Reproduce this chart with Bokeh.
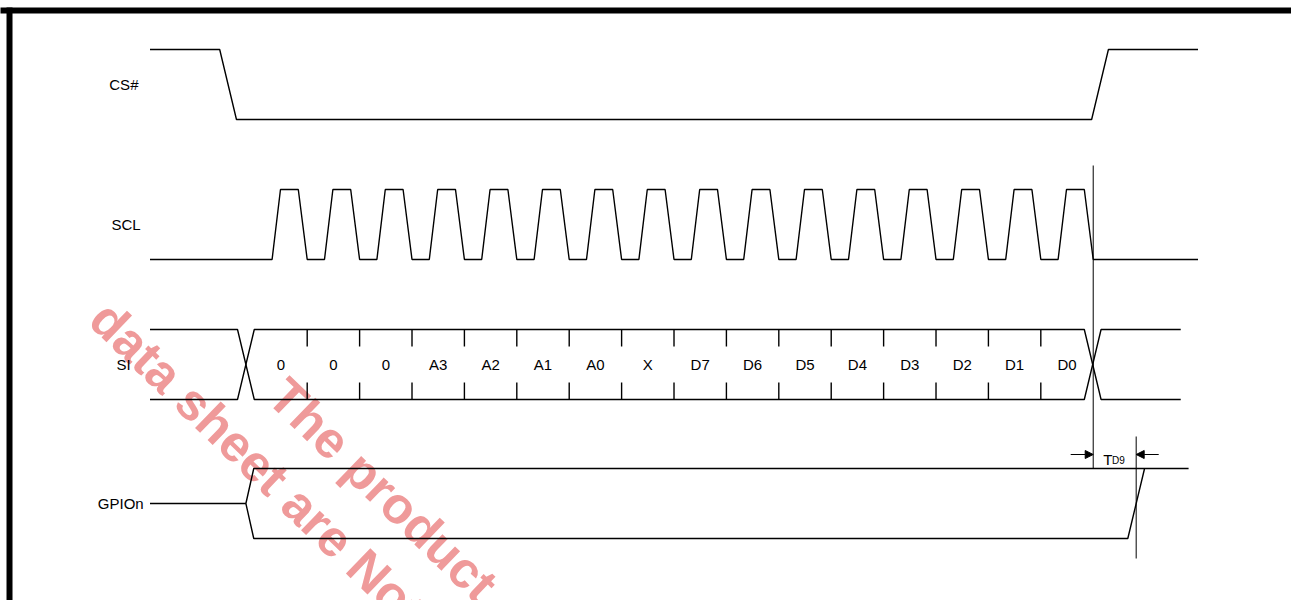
from bokeh.plotting import figure
from bokeh.models import Range1d, Arrow, NormalHead
from bokeh.core.properties import value
from bokeh.embed import file_html
from bokeh.resources import INLINE

# ---------------- data (time in SCL periods) ----------------
signal_names = ["CS#", "SCL", "SI", "GPIOn"]
si_bits = ["0", "0", "0", "A3", "A2", "A1", "A0", "X",
           "D7", "D6", "D5", "D4", "D3", "D2", "D1", "D0"]
# CS# waveform: time / logic level
cs_t = [-2.0, -0.67, -0.35, 15.97, 16.29, 18.0]
cs_level = [1, 1, 0, 0, 1, 1]
# SCL pulses: start of rising edge, start of falling edge
scl_rise = [0.33, 1.33, 2.33, 3.33, 4.33, 5.33, 6.33, 7.33,
            8.33, 9.33, 10.33, 11.33, 12.33, 13.33, 14.33, 15.33]
scl_fall = [0.83, 1.83, 2.83, 3.83, 4.83, 5.83, 6.83, 7.83,
            8.83, 9.83, 10.83, 11.83, 12.83, 13.83, 14.83, 15.83]
scl_span = [-2.0, 18.0]
# SI bus: crossing times of the transitions, and span
si_cross = [-0.17, 15.99]
si_span = [-2.0, 17.67]
# GPIOn: start, bus opening, end of low level, end of rise, end
gpio_t = [-2.0, -0.17, 16.66, 16.98, 17.82]
# T_D9 interval (from last SCL falling edge to GPIOn valid)
td9 = [16.0, 16.82]
watermark = ["data sheet are Not", "The product"]

# ---------------- layout / style ----------------
FONT = value("Liberation Sans")
H = 70.0
lane = {"CS#": 473.0, "SCL": 333.0, "SI": 193.0, "GPIOn": 54.0}
label_x = {"CS#": -2.22, "SCL": -2.18, "SI": -2.37, "GPIOn": -2.12}
LW = 1.4
RISE = 0.16
FALL = 0.17
HALF = 0.16

p = figure(width=1291, height=600, x_range=Range1d(-4.853, 19.784),
           y_range=Range1d(-8, 592), output_backend="svg",
           toolbar_location=None, min_border=0,
           x_axis_type=None, y_axis_type=None)
p.grid.visible = False
p.outline_line_color = None
p.background_fill_color = "white"
p.border_fill_color = "white"

# watermark (behind everything)
p.text(x=[-2.98, 0.42], y=[282, 205], text=watermark,
       angle=[-44, -44], angle_units="deg",
       text_font=FONT, text_font_style="bold", text_font_size="51px",
       text_color="#ef9a9a", text_align="left", text_baseline="middle")

# frame
p.line([-4.9, 19.9], [582, 582], line_color="black", line_width=6)
p.line([-4.681, -4.681], [585, -10], line_color="black", line_width=6)

# CS#
b = lane["CS#"]
p.line(cs_t, [b + H * v for v in cs_level], line_color="black", line_width=LW)

# SCL
b = lane["SCL"]
xs, ys = [scl_span[0]], [b]
for r, f in zip(scl_rise, scl_fall):
    xs += [r, r + RISE, f, f + FALL]
    ys += [b, b + H, b + H, b]
xs.append(scl_span[1]); ys.append(b)
p.line(xs, ys, line_color="black", line_width=LW)

# SI bus
b = lane["SI"]; top = b + H; c0, c1 = si_cross
p.line([si_span[0], c0 - HALF, c0 + HALF, c1 - HALF, c1 + HALF, si_span[1]],
       [top, top, b, b, top, top], line_color="black", line_width=LW)
p.line([si_span[0], c0 - HALF, c0 + HALF, c1 - HALF, c1 + HALF, si_span[1]],
       [b, b, top, top, b, b], line_color="black", line_width=LW)
ticks = list(range(1, len(si_bits)))
p.segment(x0=ticks, y0=[top] * len(ticks), x1=ticks, y1=[top - 17] * len(ticks),
          line_color="black", line_width=LW)
p.segment(x0=ticks, y0=[b] * len(ticks), x1=ticks, y1=[b + 17] * len(ticks),
          line_color="black", line_width=LW)
p.text(x=[k + 0.5 for k in range(len(si_bits))], y=[b + H / 2] * len(si_bits),
       text=si_bits, text_font=FONT, text_font_size="15px", text_color="black",
       text_align="center", text_baseline="middle")

# GPIOn
b = lane["GPIOn"]; top = b + H; mid = b + H / 2
g0, g1, g2, g3, g4 = gpio_t
p.line([g0, g1], [mid, mid], line_color="black", line_width=LW)
p.line([g4, g1 + 0.15, g1, g1 + 0.15, g2, g3],
       [top, top, mid, b, b, top], line_color="black", line_width=LW)

# reference lines for T_D9
p.segment(x0=[td9[0], td9[1]], y0=[427, 156], x1=[td9[0], td9[1]], y1=[top, 34],
          line_color="black", line_width=1)
ay = 138
p.add_layout(Arrow(end=NormalHead(size=8, fill_color="black", line_color="black"),
                   x_start=td9[0] - 0.43, y_start=ay, x_end=td9[0], y_end=ay,
                   line_color="black", line_width=1))
p.add_layout(Arrow(end=NormalHead(size=8, fill_color="black", line_color="black"),
                   x_start=td9[1] + 0.43, y_start=ay, x_end=td9[1], y_end=ay,
                   line_color="black", line_width=1))
p.text(x=[td9[0] + 0.19], y=[132.7], text=["T"], text_font=FONT,
       text_font_size="15px", text_color="black", text_align="left",
       text_baseline="alphabetic")
p.text(x=[td9[0] + 0.36], y=[132.3], text=["D9"], text_font=FONT,
       text_font_size="10px", text_color="black", text_align="left",
       text_baseline="alphabetic")

# signal names
p.text(x=[label_x[n] for n in signal_names],
       y=[lane[n] + H / 2 for n in signal_names],
       text=signal_names, text_font=FONT, text_font_size="15px",
       text_color="black", text_align="right", text_baseline="middle")

open("out.html", "w").write(file_html(p, INLINE))
